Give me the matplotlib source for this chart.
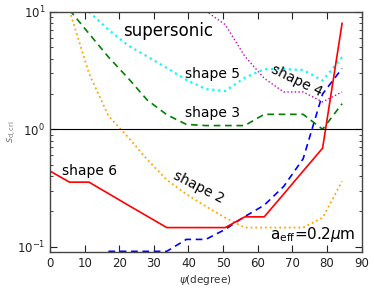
import numpy as np
import matplotlib

matplotlib.use("Agg")
import matplotlib.pyplot as plt

nan = np.nan

# incidence angle grid (degree)
psi = [0, 5.625, 11.25, 16.875, 22.5, 28.125, 33.75, 39.375,
       45, 50.625, 56.25, 61.875, 67.5, 73.125, 78.75, 84.375]

# critical drift parameter per shape
shape1 = [nan, nan, nan, 0.091, 0.091, 0.091, 0.091, 0.115,
          0.115, 0.14, 0.18, 0.225, 0.325, 0.56, 2.0, 3.3]
shape2 = [nan, 10.3, 3.0, 1.3, 0.86, 0.55, 0.37, 0.28,
          0.22, 0.176, 0.145, 0.145, 0.145, 0.145, 0.176, 0.36]
shape3 = [nan, 10.4, 6.55, 4.13, 2.74, 1.77, 1.33, 1.1,
          1.075, 1.075, 1.075, 1.34, 1.34, 1.34, 1.0, 1.65]
shape4 = [nan, nan, nan, nan, nan, nan, nan, nan,
          10.2, 7.8, 4.2, 2.72, 2.08, 2.08, 1.71, 2.08]
shape5 = [nan, nan, 10.02, 7.08, 5.2, 4.17, 3.33, 2.64,
          2.2, 2.12, 2.75, 3.25, 3.26, 3.2, 2.6, 4.12]
shape6 = [0.44, 0.354, 0.354, 0.283, 0.226, 0.181, 0.145, 0.145,
          0.145, 0.145, 0.179, 0.179, 0.28, 0.44, 0.69, 8.0]

fig = plt.figure(figsize=(3.74, 2.92), dpi=100)
ax = fig.add_axes([0.1337, 0.137, 0.833, 0.822])

dash = (0, (4, 2.8))
ax.plot(psi, shape1, color="#0000ff", lw=1.2, linestyle=dash)
ax.plot(psi, shape2, color="orange", lw=1.3, linestyle=":")
ax.plot(psi, shape3, color="#008000", lw=1.2, linestyle=dash)
ax.plot(psi, shape4, color="#c000c0", lw=1.0, linestyle=":")
ax.plot(psi, shape5, color="cyan", lw=1.6, linestyle=":")
ax.plot(psi, shape6, color="red", lw=1.2, linestyle="-")
ax.axhline(1.0, color="black", lw=0.8)

ax.set_yscale("log")
ax.set_xlim(0, 90)
ax.set_ylim(0.0898, 10)
ax.set_xticks(range(0, 91, 10))

ax.tick_params(which="both", direction="in", top=True, right=True,
               labelsize=8.5, colors="#222222")
ax.tick_params(which="major", length=5, width=0.8)
ax.tick_params(which="minor", length=2.5, width=0.6)
for sp in ax.spines.values():
    sp.set_color("#444444")
    sp.set_linewidth(1.0)

ax.set_xlabel(r"$\psi$(degree)", fontsize=7.5, color="#333333", labelpad=2)
ax.set_ylabel(r"$s_{\rm d,cri}$", fontsize=7, color="#777777")
ax.yaxis.set_label_coords(-0.1, 0.5)

ax.text(21.2, 6.9, "supersonic", fontsize=12, va="center", ha="left")
ax.text(39.1, 2.98, "shape 5", fontsize=10, va="center", ha="left")
ax.text(39.1, 1.38, "shape 3", fontsize=10, va="center", ha="left")
ax.text(3.6, 0.44, "shape 6", fontsize=10, va="center", ha="left")
ax.text(71.2, 2.58, "shape 4", fontsize=10, va="center", ha="center",
        rotation=-26)
ax.text(42.9, 0.32, "shape 2", fontsize=10, va="center", ha="center",
        rotation=-27)
ax.text(75.8, 0.127, r"a$_{\rm eff}$=0.2$\mu$m", fontsize=11,
        va="center", ha="center")

fig.savefig("out.png", dpi=100)
